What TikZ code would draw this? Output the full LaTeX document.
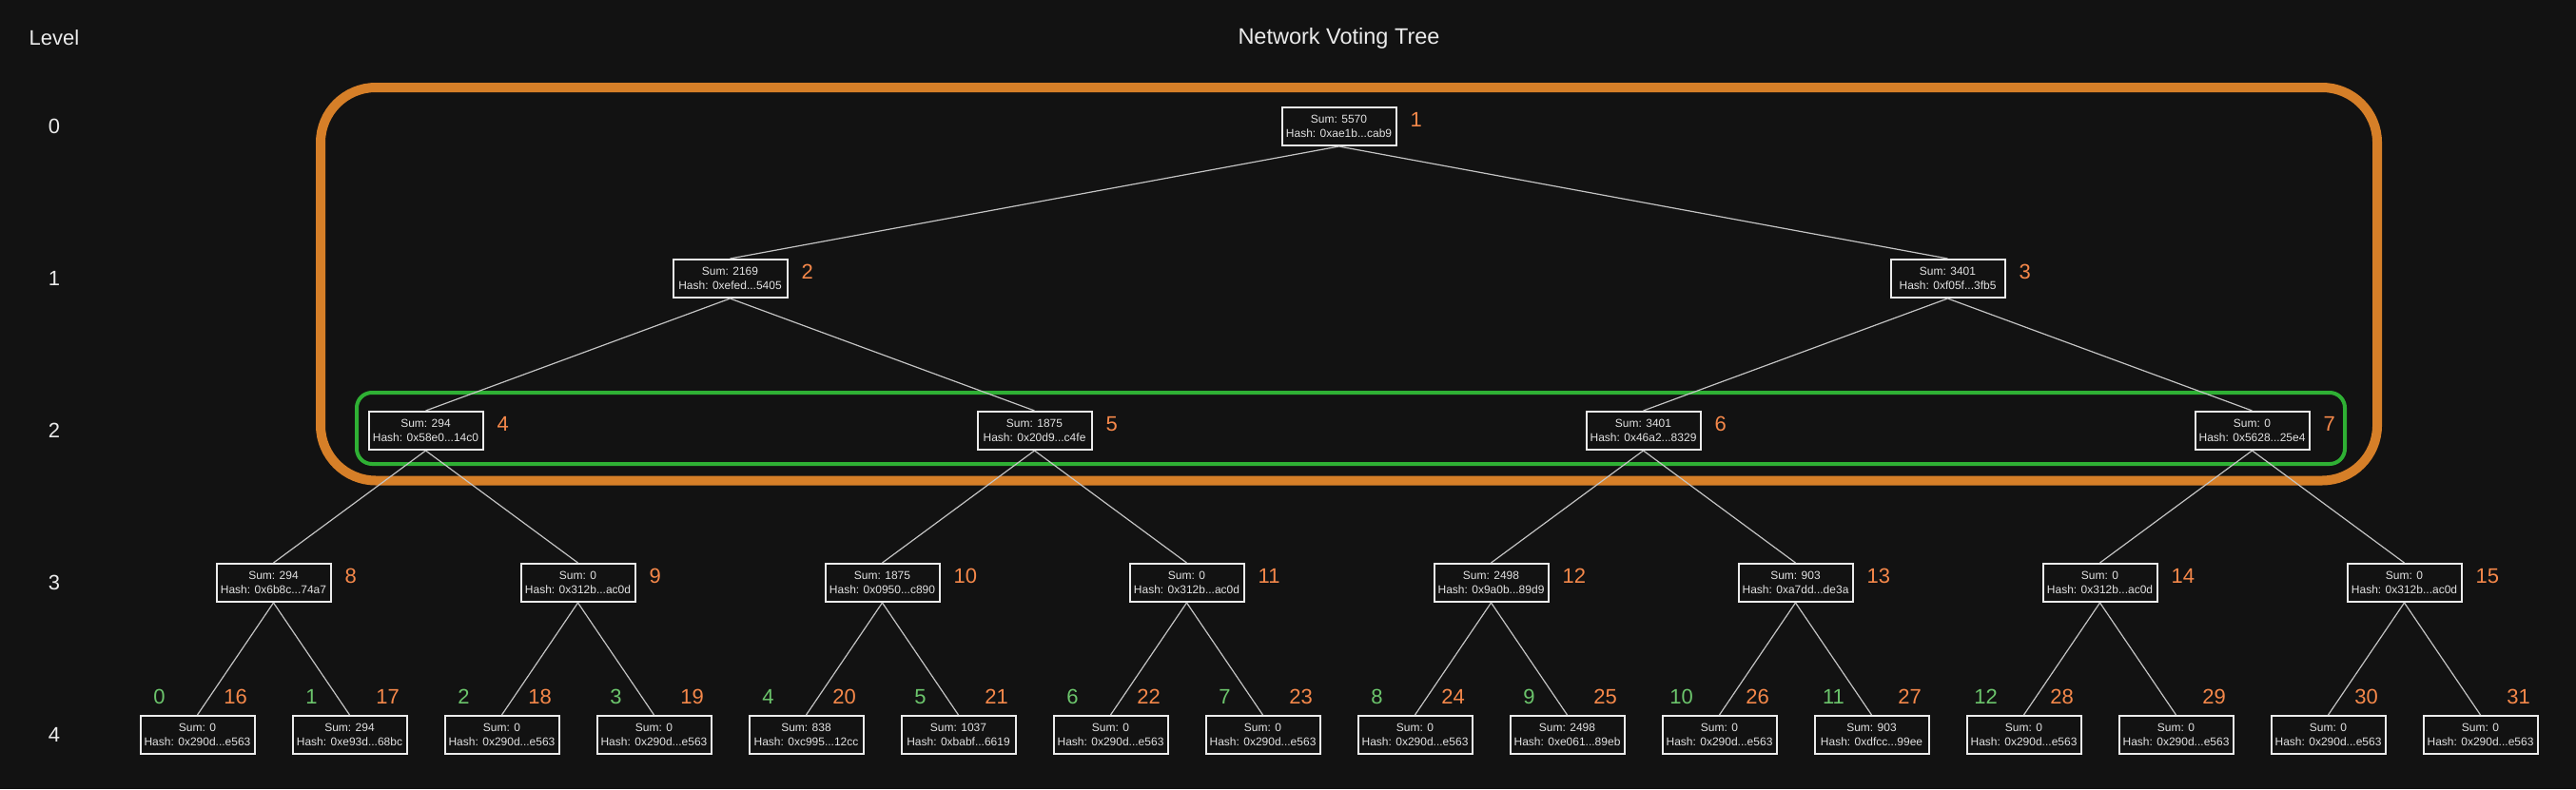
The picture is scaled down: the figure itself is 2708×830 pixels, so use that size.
\documentclass[tikz,border=0pt]{standalone}
\usepackage{fontspec}
\setmainfont{Liberation Sans}
\definecolor{bg}{HTML}{121212}
\definecolor{frameorange}{HTML}{D67F28}
\definecolor{framegreen}{HTML}{2FB034}
\definecolor{laborange}{HTML}{F5884A}
\definecolor{labgreen}{HTML}{6CC56C}
\definecolor{edgegray}{HTML}{C4C4C4}
\definecolor{boxtext}{HTML}{E2E2E2}
\tikzset{
  tb/.style={draw=white!92!black, line width=2pt, fill=bg, minimum width=120pt, minimum height=40pt,
    inner sep=0pt, align=center, text=boxtext, font=\fontsize{12}{15}\selectfont},
  olab/.style={text=laborange, inner sep=0pt, font=\fontsize{22}{24}\selectfont},
  glab/.style={text=labgreen, inner sep=0pt, font=\fontsize{22}{24}\selectfont},
  levlab/.style={text=white!92!black, inner sep=0pt, font=\fontsize{22}{24}\selectfont},
  edge/.style={draw=edgegray, line width=1.2pt},
}
\begin{document}
\begin{tikzpicture}[x=1pt,y=-1pt]
\fill[bg] (0,0) rectangle (2708,830);
\useasboundingbox (0,0) rectangle (2708,830);
% title and levels
\node[levlab, font=\fontsize{23.5}{26}\selectfont] (title) at (1407.5,40) {Network Voting Tree};
\node[levlab] (levelhead) at (57,40) {Level};
\node[levlab] (lv0) at (57,133) {0};
\node[levlab] (lv1) at (57,293) {1};
\node[levlab] (lv2) at (57,453) {2};
\node[levlab] (lv3) at (57,613) {3};
\node[levlab] (lv4) at (57,773) {4};
% frames
\draw[frameorange, line width=10pt, rounded corners=58pt] (337,92) rectangle (2499,505.5);
\draw[framegreen, line width=4pt, rounded corners=16pt] (375,413) rectangle (2465,488);
% level 0
\node[tb] (n1) at (1407.5,133) {Sum: 5570\\Hash: 0xae1b...cab9};
% level 1
\node[tb] (n2) at (767.5,293) {Sum: 2169\\Hash: 0xefed...5405};
\node[tb] (n3) at (2047.5,293) {Sum: 3401\\Hash: 0xf05f...3fb5};
% level 2
\node[tb] (n4) at (447.5,453) {Sum: 294\\Hash: 0x58e0...14c0};
\node[tb] (n5) at (1087.5,453) {Sum: 1875\\Hash: 0x20d9...c4fe};
\node[tb] (n6) at (1727.5,453) {Sum: 3401\\Hash: 0x46a2...8329};
\node[tb] (n7) at (2367.5,453) {Sum: 0\\Hash: 0x5628...25e4};
% level 3
\node[tb] (n8) at (287.5,613) {Sum: 294\\Hash: 0x6b8c...74a7};
\node[tb] (n9) at (607.5,613) {Sum: 0\\Hash: 0x312b...ac0d};
\node[tb] (n10) at (927.5,613) {Sum: 1875\\Hash: 0x0950...c890};
\node[tb] (n11) at (1247.5,613) {Sum: 0\\Hash: 0x312b...ac0d};
\node[tb] (n12) at (1567.5,613) {Sum: 2498\\Hash: 0x9a0b...89d9};
\node[tb] (n13) at (1887.5,613) {Sum: 903\\Hash: 0xa7dd...de3a};
\node[tb] (n14) at (2207.5,613) {Sum: 0\\Hash: 0x312b...ac0d};
\node[tb] (n15) at (2527.5,613) {Sum: 0\\Hash: 0x312b...ac0d};
% level 4
\node[tb] (n16) at (207.5,773) {Sum: 0\\Hash: 0x290d...e563};
\node[tb] (n17) at (367.5,773) {Sum: 294\\Hash: 0xe93d...68bc};
\node[tb] (n18) at (527.5,773) {Sum: 0\\Hash: 0x290d...e563};
\node[tb] (n19) at (687.5,773) {Sum: 0\\Hash: 0x290d...e563};
\node[tb] (n20) at (847.5,773) {Sum: 838\\Hash: 0xc995...12cc};
\node[tb] (n21) at (1007.5,773) {Sum: 1037\\Hash: 0xbabf...6619};
\node[tb] (n22) at (1167.5,773) {Sum: 0\\Hash: 0x290d...e563};
\node[tb] (n23) at (1327.5,773) {Sum: 0\\Hash: 0x290d...e563};
\node[tb] (n24) at (1487.5,773) {Sum: 0\\Hash: 0x290d...e563};
\node[tb] (n25) at (1647.5,773) {Sum: 2498\\Hash: 0xe061...89eb};
\node[tb] (n26) at (1807.5,773) {Sum: 0\\Hash: 0x290d...e563};
\node[tb] (n27) at (1967.5,773) {Sum: 903\\Hash: 0xdfcc...99ee};
\node[tb] (n28) at (2127.5,773) {Sum: 0\\Hash: 0x290d...e563};
\node[tb] (n29) at (2287.5,773) {Sum: 0\\Hash: 0x290d...e563};
\node[tb] (n30) at (2447.5,773) {Sum: 0\\Hash: 0x290d...e563};
\node[tb] (n31) at (2607.5,773) {Sum: 0\\Hash: 0x290d...e563};
% edges
\foreach \c in {2,...,31}{
  \pgfmathtruncatemacro{\p}{\c/2}
  \draw[edge] (n\p.south) -- (n\c.north);
}
% labels of inner nodes
\foreach \c in {1,...,15}{
  \node[olab, anchor=west] (lab\c) at ([xshift=14pt,yshift=7pt]n\c.east) {\c};
}
% labels of leaves
\foreach \c in {16,...,31}{
  \node[olab] (lab\c) at ([xshift=40pt,yshift=40pt]n\c.center) {\c};
}
\foreach \c in {16,...,28}{
  \pgfmathtruncatemacro{\g}{\c-16}
  \node[glab] (gl\c) at ([xshift=-40pt,yshift=40pt]n\c.center) {\g};
}
\end{tikzpicture}
\end{document}
